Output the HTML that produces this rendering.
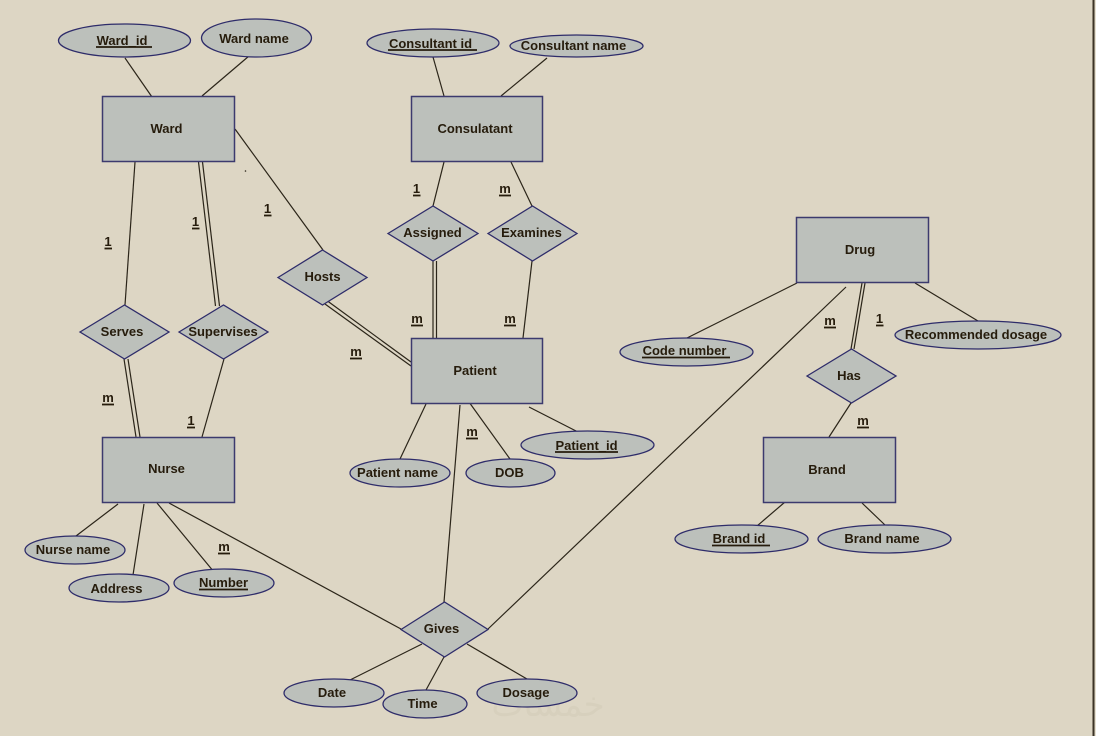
<!DOCTYPE html>
<html>
<head>
<meta charset="utf-8">
<style>
html,body{margin:0;padding:0;background:#ddd6c4;}
svg{display:block;}
text{font-family:"Liberation Sans",Arial,sans-serif;font-weight:bold;font-size:13px;fill:#261c0c;text-anchor:middle;}
.e{fill:#bcc0bb;stroke:#2e2c6a;stroke-width:1.3;}
.r{fill:#bcc0bb;stroke:#3c3a6e;stroke-width:1.5;}
.l{stroke:#2b2519;stroke-width:1.2;fill:none;}
.u{stroke:#261c0c;stroke-width:1.8;}
</style>
</head>
<body>
<svg width="1096" height="736" viewBox="0 0 1096 736" xmlns="http://www.w3.org/2000/svg">
<rect x="0" y="0" width="1096" height="736" fill="#ddd6c4"/>
<line x1="1093.5" y1="0" x2="1093.5" y2="736" stroke="#3b3326" stroke-width="2"/>
<rect x="1095" y="0" width="1" height="736" fill="#e8e2d2"/>

<!-- watermark -->
<text x="548" y="716" style="font-size:34px;fill:#d7d0bd;font-family:'DejaVu Sans',sans-serif;font-weight:normal">خمسات</text>

<!-- connector lines -->
<g class="l">
  <line x1="125" y1="58" x2="152" y2="97"/>
  <line x1="249" y1="56" x2="202" y2="96"/>
  <line x1="235" y1="129" x2="323" y2="250"/>
  <line x1="135" y1="162" x2="125" y2="305"/>
  <line x1="198.5" y1="162" x2="215.5" y2="306"/>
  <line x1="202.5" y1="162" x2="219.5" y2="306"/>
  <line x1="124" y1="359" x2="136" y2="437"/>
  <line x1="128" y1="359" x2="140" y2="437"/>
  <line x1="224" y1="359" x2="202" y2="437"/>
  <line x1="118" y1="504" x2="76" y2="536"/>
  <line x1="144" y1="504" x2="133" y2="575"/>
  <line x1="157" y1="503" x2="214" y2="572"/>
  <line x1="169" y1="503" x2="401" y2="629"/>
  <line x1="433" y1="57" x2="444" y2="96"/>
  <line x1="547" y1="58" x2="501" y2="96"/>
  <line x1="444" y1="162" x2="433" y2="206"/>
  <line x1="511" y1="162" x2="532" y2="206"/>
  <line x1="433" y1="261" x2="433" y2="338"/>
  <line x1="436.5" y1="261" x2="436.5" y2="338"/>
  <line x1="532" y1="261" x2="523" y2="338"/>
  <line x1="325" y1="304" x2="411" y2="366"/>
  <line x1="327.5" y1="301" x2="411" y2="362"/>
  <line x1="426" y1="404" x2="400" y2="459"/>
  <line x1="469" y1="402" x2="510" y2="459"/>
  <line x1="529" y1="407" x2="578" y2="432"/>
  <line x1="460" y1="405" x2="444" y2="602"/>
  <line x1="488" y1="629" x2="846" y2="287"/>
  <line x1="422" y1="644" x2="346" y2="682"/>
  <line x1="444" y1="657" x2="426" y2="690"/>
  <line x1="467" y1="644" x2="527" y2="679"/>
  <line x1="797" y1="283" x2="687" y2="338"/>
  <line x1="915" y1="283" x2="978" y2="321"/>
  <line x1="862" y1="283" x2="851" y2="349"/>
  <line x1="865" y1="283" x2="854" y2="349"/>
  <line x1="851" y1="403" x2="829" y2="437"/>
  <line x1="785" y1="502" x2="757" y2="526"/>
  <line x1="862" y1="503" x2="885" y2="525"/>
</g>
<circle cx="245.5" cy="171" r="0.8" fill="#2b2519"/>

<!-- entities -->
<rect class="r" x="102.5" y="96.5" width="132" height="65"/>
<rect class="r" x="411.5" y="96.5" width="131" height="65"/>
<rect class="r" x="411.5" y="338.5" width="131" height="65"/>
<rect class="r" x="102.5" y="437.5" width="132" height="65"/>
<rect class="r" x="796.5" y="217.5" width="132" height="65"/>
<rect class="r" x="763.5" y="437.5" width="132" height="65"/>

<!-- relationships -->
<polygon class="e" points="80,332 124.5,305 169,332 124.5,359"/>
<polygon class="e" points="179,332 223.5,305 268,332 223.5,359"/>
<polygon class="e" points="278,277.5 322.5,250 367,277.5 322.5,305"/>
<polygon class="e" points="388,233.5 433,206 478,233.5 433,261"/>
<polygon class="e" points="488,233.5 532.5,206 577,233.5 532.5,261"/>
<polygon class="e" points="401,629.5 444.5,602 488,629.5 444.5,657"/>
<polygon class="e" points="807,376 851.5,349 896,376 851.5,403"/>

<!-- attributes -->
<ellipse class="e" cx="124.5" cy="40.5" rx="66" ry="16.5"/>
<ellipse class="e" cx="256.5" cy="38" rx="55" ry="19"/>
<ellipse class="e" cx="433" cy="43" rx="66" ry="14"/>
<ellipse class="e" cx="576.5" cy="46" rx="66.5" ry="11"/>
<ellipse class="e" cx="75" cy="550" rx="50" ry="14"/>
<ellipse class="e" cx="119" cy="588" rx="50" ry="14"/>
<ellipse class="e" cx="224" cy="583" rx="50" ry="14"/>
<ellipse class="e" cx="400" cy="473" rx="50" ry="14"/>
<ellipse class="e" cx="510.5" cy="473" rx="44.5" ry="14"/>
<ellipse class="e" cx="587.5" cy="445" rx="66.5" ry="14"/>
<ellipse class="e" cx="334" cy="693" rx="50" ry="14"/>
<ellipse class="e" cx="425" cy="704" rx="42" ry="14"/>
<ellipse class="e" cx="527" cy="693" rx="50" ry="14"/>
<ellipse class="e" cx="686.5" cy="352" rx="66.5" ry="14"/>
<ellipse class="e" cx="978" cy="335" rx="83" ry="14"/>
<ellipse class="e" cx="741.5" cy="539" rx="66.5" ry="14"/>
<ellipse class="e" cx="884.5" cy="539" rx="66.5" ry="14"/>

<!-- labels -->
<text x="122" y="45">Ward_id</text>
<line class="u" x1="96" y1="47" x2="152" y2="47"/>
<text x="254" y="43">Ward name</text>
<text x="166.5" y="133">Ward</text>
<text x="430.5" y="48">Consultant id</text>
<line class="u" x1="388" y1="50" x2="477" y2="50"/>
<text x="573.5" y="50">Consultant name</text>
<text x="475" y="133">Consulatant</text>
<text x="432.5" y="237">Assigned</text>
<text x="531.5" y="237">Examines</text>
<text x="322.5" y="281">Hosts</text>
<text x="475" y="375">Patient</text>
<text x="397.5" y="477">Patient name</text>
<text x="509.5" y="477">DOB</text>
<text x="586.5" y="450">Patient_id</text>
<line class="u" x1="555" y1="452" x2="618" y2="452"/>
<text x="122" y="336">Serves</text>
<text x="223" y="336">Supervises</text>
<text x="166.5" y="473">Nurse</text>
<text x="73" y="554">Nurse name</text>
<text x="116.5" y="593">Address</text>
<text x="223.5" y="587">Number</text>
<line class="u" x1="199" y1="589.5" x2="248" y2="589.5"/>
<text x="441.5" y="633">Gives</text>
<text x="332" y="697">Date</text>
<text x="422.5" y="708">Time</text>
<text x="526" y="697">Dosage</text>
<text x="860" y="254">Drug</text>
<text x="976" y="339">Recommended dosage</text>
<text x="849" y="380">Has</text>
<text x="684.5" y="355">Code number</text>
<line class="u" x1="642" y1="357.5" x2="730" y2="357.5"/>
<text x="827" y="474">Brand</text>
<text x="739" y="543">Brand id</text>
<line class="u" x1="712" y1="545.5" x2="770" y2="545.5"/>
<text x="882" y="543">Brand name</text>

<!-- cardinalities -->
<g>
<text x="267.5" y="213">1</text><line class="u" x1="264" y1="215.5" x2="271.5" y2="215.5"/>
<text x="195.5" y="226">1</text><line class="u" x1="192" y1="228.5" x2="199.5" y2="228.5"/>
<text x="108" y="246">1</text><line class="u" x1="104.5" y1="248.5" x2="112" y2="248.5"/>
<text x="108" y="402">m</text><line class="u" x1="102" y1="404.5" x2="114" y2="404.5"/>
<text x="191" y="425">1</text><line class="u" x1="187" y1="427.5" x2="195" y2="427.5"/>
<text x="224" y="551">m</text><line class="u" x1="218" y1="553.5" x2="230" y2="553.5"/>
<text x="356" y="356">m</text><line class="u" x1="350" y1="358.5" x2="362" y2="358.5"/>
<text x="417" y="323">m</text><line class="u" x1="411" y1="325.5" x2="423" y2="325.5"/>
<text x="510" y="323">m</text><line class="u" x1="504" y1="325.5" x2="516" y2="325.5"/>
<text x="472" y="436">m</text><line class="u" x1="466" y1="438.5" x2="478" y2="438.5"/>
<text x="416.5" y="193">1</text><line class="u" x1="413" y1="195.5" x2="420.5" y2="195.5"/>
<text x="505" y="193">m</text><line class="u" x1="499" y1="195.5" x2="511" y2="195.5"/>
<text x="830" y="325">m</text><line class="u" x1="824" y1="327.5" x2="836" y2="327.5"/>
<text x="879.5" y="323">1</text><line class="u" x1="876" y1="325.5" x2="883.5" y2="325.5"/>
<text x="863" y="425">m</text><line class="u" x1="857" y1="427.5" x2="869" y2="427.5"/>
</g>
</svg>
</body>
</html>
